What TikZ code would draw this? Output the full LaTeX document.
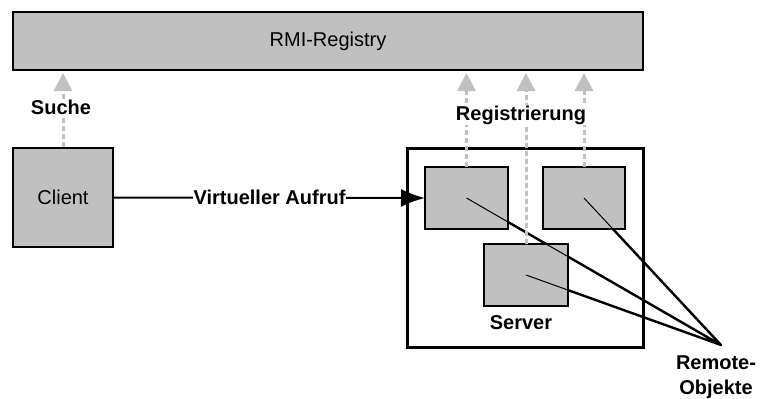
\documentclass[tikz,border=0pt]{standalone}
\usepackage{fontspec}
\setmainfont{Liberation Sans}
\usetikzlibrary{arrows.meta}

\definecolor{boxgray}{HTML}{C0C0C0}

\tikzset{
  plain/.style={font=\fontsize{20}{24}\selectfont},
  tag/.style={font=\bfseries\fontsize{20}{25}\selectfont, fill=white, inner sep=1pt},
  graybox/.style={draw=black, line width=2pt, fill=boxgray, inner sep=0pt, plain},
  frame/.style={draw=black, line width=3pt, fill=white, inner sep=0pt},
  reglink/.style={draw=boxgray, line width=3pt, dash pattern=on 5pt off 3pt,
                  -{Triangle[length=18pt,width=18pt,fill=boxgray,sharp]}},
  heavylink/.style={draw=black, line width=2.4pt, line cap=round},
  thinlink/.style={draw=black, line width=1pt},
  callarrow/.style={draw=black, line width=2pt, -{Latex[length=24pt,width=18pt]}}
}

\begin{document}
\begin{tikzpicture}[x=1pt,y=-1pt]
  \useasboundingbox (0,0) rectangle (761,399);

  % registry and client
  \node[graybox, minimum width=630pt, minimum height=58pt] (reg) at (328,41) {RMI-Registry};
  \node[graybox, minimum width=100pt, minimum height=99pt] (client) at (63,197.5) {Client};

  % server with its remote objects
  \node[frame, minimum width=236pt, minimum height=199pt] (server) at (525,247.5) {};
  \node[graybox, minimum width=81pt, minimum height=60pt] (o1) at (466.5,198) {};
  \node[graybox, minimum width=80pt, minimum height=60pt] (o2) at (584,198) {};
  \node[graybox, minimum width=82pt, minimum height=60pt] (o3) at (526,275) {};
  \node[tag, fill=none] (srvlabel) at (521,323) {Server};

  % pointers to the remote objects
  \coordinate (rem) at (721,345);
  \draw[heavylink] (o1.center) -- (rem) (o2.center) -- (rem) (o3.center) -- (rem);
  \foreach \b in {o1,o2,o3}{
    \begin{scope}
      \clip (\b.south west) rectangle (\b.north east);
      \fill[boxgray] (\b.south west) rectangle (\b.north east);
      \draw[thinlink] (o1.center) -- (rem) (o2.center) -- (rem) (o3.center) -- (rem);
    \end{scope}
    \draw[line width=2pt] (\b.south west) rectangle (\b.north east);
  }
  \node[tag, fill=none, align=center] (remlabel) at (716,377) {Remote-\\Objekte};

  % lookup and registration
  \draw[reglink, shorten >=2pt] (client.north) -- (client.north |- reg.south);
  \draw[reglink, shorten >=2pt] (o1.north) -- (o1.north |- reg.south);
  \draw[reglink, shorten >=2pt] (o3.north) -- (o3.north |- reg.south);
  \draw[reglink, shorten >=2pt] (o2.north) -- (o2.north |- reg.south);
  \node[tag] (suche) at (61,107) {Suche};
  \node[tag] (regtag) at (521,115) {Registrierung};

  % remote call
  \draw[callarrow] (client.east) -- (o1.west)
    node[tag, midway] (call) {Virtueller Aufruf};
\end{tikzpicture}
\end{document}
